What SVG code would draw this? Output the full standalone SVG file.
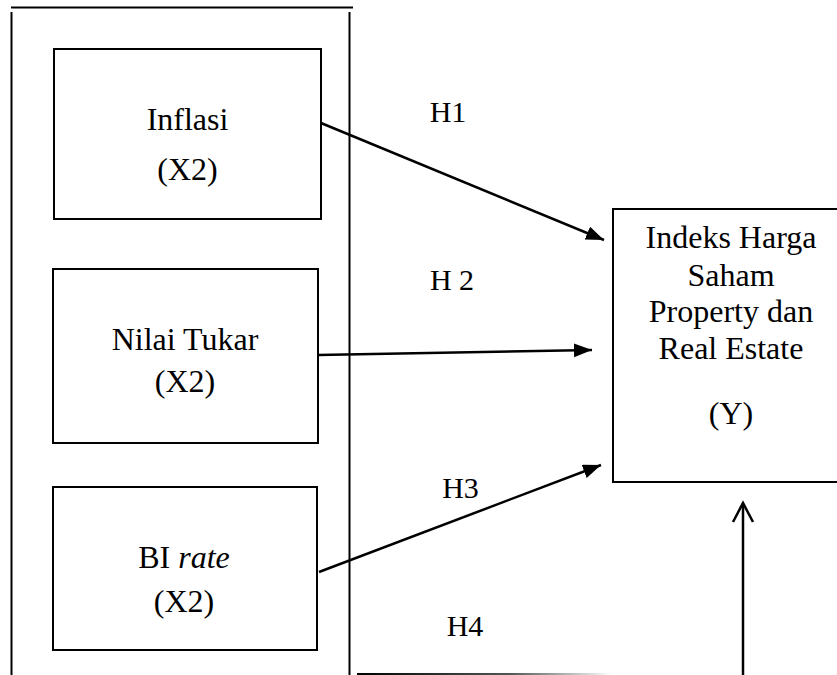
<svg xmlns="http://www.w3.org/2000/svg" width="837" height="675" viewBox="0 0 837 675">
<style>
.box{fill:#fff;stroke:#000;stroke-width:2}
.frame{stroke:#000;stroke-width:2;fill:none}
.t{font-family:"Liberation Serif","Times New Roman",serif;font-size:32px;fill:#000;text-anchor:middle}
.h{font-size:30px}
.conn{stroke:#000;stroke-width:2.5;fill:none}
</style>
<defs>
<marker id="tri" markerUnits="userSpaceOnUse" markerWidth="20" markerHeight="16" refX="18" refY="7" orient="auto">
<path d="M0,0 L18,7 L0,14 Z" fill="#000"/>
</marker>
<marker id="open" markerUnits="userSpaceOnUse" markerWidth="26" markerHeight="26" refX="20" refY="12" orient="auto">
<path d="M1,2 L20,12 L1,22" fill="none" stroke="#000" stroke-width="2.5"/>
</marker>
<linearGradient id="fade" x1="357" y1="0" x2="612" y2="0" gradientUnits="userSpaceOnUse">
<stop offset="0" stop-color="#000"/>
<stop offset="0.6" stop-color="#555"/>
<stop offset="1" stop-color="#fff"/>
</linearGradient>
</defs>
<g id="frame">
<line class="frame" x1="11" y1="7.5" x2="353" y2="7.5"/>
<line class="frame" x1="11.5" y1="12" x2="11.5" y2="675"/>
<line class="frame" x1="349.5" y1="12" x2="349.5" y2="675"/>
<line x1="357" y1="674" x2="612" y2="674" stroke="url(#fade)" stroke-width="2"/>
</g>
<g id="inflasi">
<rect class="box" x="54" y="49" width="267" height="170"/>
<text class="t" x="187.5" y="130">Inflasi</text>
<text class="t" x="187.5" y="180">(X2)</text>
</g>
<g id="nilai-tukar">
<rect class="box" x="53" y="269" width="265" height="174"/>
<text class="t" x="185" y="350">Nilai Tukar</text>
<text class="t" x="185" y="392">(X2)</text>
</g>
<g id="bi-rate">
<rect class="box" x="53" y="487" width="264" height="163"/>
<text class="t" x="184" y="568">BI <tspan font-style="italic">rate</tspan></text>
<text class="t" x="184" y="612">(X2)</text>
</g>
<g id="y">
<rect class="box" x="613" y="209" width="240" height="273"/>
<text class="t" x="731" y="248">Indeks Harga</text>
<text class="t" x="731" y="286">Saham</text>
<text class="t" x="731" y="322">Property dan</text>
<text class="t" x="731" y="359">Real Estate</text>
<text class="t" x="731" y="424">(Y)</text>
</g>
<g id="connectors">
<line class="conn" x1="321" y1="123" x2="604" y2="240" marker-end="url(#tri)"/>
<line class="conn" x1="318" y1="355" x2="592" y2="350" marker-end="url(#tri)"/>
<line class="conn" x1="319" y1="572" x2="601" y2="465" marker-end="url(#tri)"/>
<line class="conn" x1="743" y1="675" x2="743" y2="503" marker-end="url(#open)"/>
</g>
<g id="labels">
<text class="t h" x="448" y="122">H1</text>
<text class="t h" x="452" y="290">H 2</text>
<text class="t h" x="460.5" y="498">H3</text>
<text class="t h" x="465" y="636">H4</text>
</g>
</svg>
